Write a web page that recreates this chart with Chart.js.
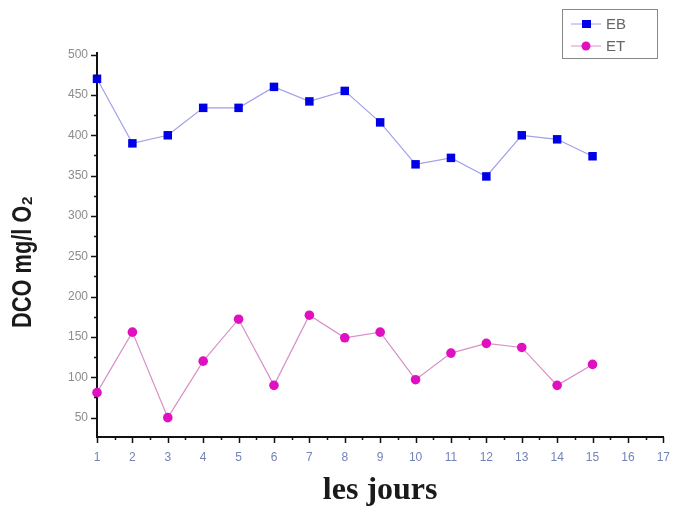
<!DOCTYPE html>
<html>
<head>
<meta charset="utf-8">
<script src="https://cdn.jsdelivr.net/npm/chart.js@4"></script>
<style>
  html, body { margin: 0; padding: 0; background: #fff; }
  #wrap { width: 683px; height: 508px; }
</style>
</head>
<body>
<div id="wrap"><canvas id="dco" width="683" height="508"></canvas></div>
<script>
// days and DCO readings (mg/l O2)
var days = [1, 2, 3, 4, 5, 6, 7, 8, 9, 10, 11, 12, 13, 14, 15];
var ebValues = [470, 390, 400, 434, 434, 460, 442, 455, 416, 364, 372, 349, 400, 395, 374];
var etValues = [81, 156, 50, 120, 172, 90, 177, 149, 156, 97, 130, 142, 137, 90, 116];
var yTicks = [50, 100, 150, 200, 250, 300, 350, 400, 450, 500];
var yTitle = "DCO mg/l O\u2082";

function toPoints(vals) {
  return days.map(function (d, i) { return { x: d, y: vals[i] }; });
}

// short outward ticks, major + minor, like the original plot
var axisTicks = {
  id: "axisTicks",
  afterDraw: function (chart) {
    var ctx = chart.ctx;
    var xs = chart.scales.x, ys = chart.scales.y;
    ctx.save();
    ctx.strokeStyle = "#111";
    ctx.lineWidth = 1.5;
    ctx.beginPath();
    for (var v = 1; v <= 17; v += 0.5) {
      var px = Math.round(xs.getPixelForValue(v)) + 0.5;
      var len = v % 1 === 0 ? 6 : 3;
      ctx.moveTo(px, ys.bottom);
      ctx.lineTo(px, ys.bottom + len);
    }
    for (var t = 50; t <= 500; t += 25) {
      var py = Math.round(ys.getPixelForValue(t)) + 0.5;
      var l = t % 50 === 0 ? 6 : 3;
      ctx.moveTo(xs.left, py);
      ctx.lineTo(xs.left - l, py);
    }
    ctx.stroke();
    ctx.restore();
  }
};

// rotated, slightly condensed y title (the original one is narrow and heavy)
var condensedTitle = {
  id: "condensedTitle",
  afterDraw: function (chart) {
    var ctx = chart.ctx;
    ctx.save();
    ctx.font = "bold 27px 'Liberation Sans', Arial, sans-serif";
    var w = ctx.measureText(yTitle).width;
    ctx.translate(24, 262);
    ctx.rotate(-Math.PI / 2);
    ctx.scale(132 / w, 1);
    ctx.fillStyle = "#1a1a1a";
    ctx.textAlign = "center";
    ctx.textBaseline = "middle";
    ctx.fillText(yTitle, 0, 0);
    ctx.restore();
  }
};

// boxed legend in the upper right corner
var boxLegend = {
  id: "boxLegend",
  afterDraw: function (chart) {
    var ctx = chart.ctx;
    ctx.save();
    ctx.strokeStyle = "#888";
    ctx.lineWidth = 1;
    ctx.strokeRect(562.5, 9.5, 95, 49);
    chart.data.datasets.forEach(function (ds, i) {
      var y = 24 + i * 22;
      ctx.strokeStyle = ds.borderColor;
      ctx.lineWidth = 1;
      ctx.beginPath();
      ctx.moveTo(571, y);
      ctx.lineTo(601, y);
      ctx.stroke();
      ctx.fillStyle = ds.pointBackgroundColor;
      if (ds.pointStyle === "rect") {
        ctx.fillRect(582, y - 4, 9, 8);
      } else {
        ctx.beginPath();
        ctx.arc(586, y, 4.5, 0, Math.PI * 2);
        ctx.fill();
      }
      ctx.fillStyle = "#666";
      ctx.font = "15px 'Liberation Sans', Arial, sans-serif";
      ctx.textBaseline = "middle";
      ctx.fillText(ds.label, 606, y + 1);
    });
    ctx.restore();
  }
};

new Chart("dco", {
  type: "line",
  data: {
    datasets: [
      {
        label: "EB",
        data: toPoints(ebValues),
        borderColor: "#a0a0ec",
        borderWidth: 1.2,
        pointStyle: "rect",
        pointRadius: 6,
        pointBackgroundColor: "#0000e6",
        pointBorderColor: "#0000e6",
        pointBorderWidth: 0,
        tension: 0,
        clip: false,
      },
      {
        label: "ET",
        data: toPoints(etValues),
        borderColor: "#d890c8",
        borderWidth: 1.2,
        pointStyle: "circle",
        pointRadius: 4.8,
        pointBackgroundColor: "#e010c0",
        pointBorderColor: "#e010c0",
        pointBorderWidth: 0,
        tension: 0,
        clip: false,
      },
    ],
  },
  options: {
    responsive: false,
    animation: false,
    layout: { padding: { left: 0, right: 18, top: 53, bottom: 0 } },
    plugins: {
      legend: { display: false },
      tooltip: { enabled: false },
    },
    scales: {
      x: {
        type: "linear",
        min: 1,
        max: 17,
        afterBuildTicks: function (scale) {
          var t = [];
          for (var d = 1; d <= 17; d++) t.push({ value: d });
          scale.ticks = t;
        },
        afterFit: function (scale) { scale.height = 71; },
        grid: { display: false, drawTicks: false },
        border: { display: true, color: "#111", width: 2 },
        ticks: {
          padding: 13,
          color: "#7383b8",
          font: { family: "'Liberation Sans', Arial, sans-serif", size: 12 },
          autoSkip: false,
          maxRotation: 0,
        },
        title: {
          display: true,
          text: "les jours",
          color: "#1a1a1a",
          font: { family: "'Liberation Serif', 'Times New Roman', serif", size: 32, weight: "bold", lineHeight: 1 },
          padding: { top: 0, bottom: 1 },
        },
      },
      y: {
        min: 26,
        max: 502,
        afterBuildTicks: function (scale) {
          scale.ticks = yTicks.map(function (v) { return { value: v }; });
        },
        afterFit: function (scale) { scale.width = 97; },
        grid: { display: false, drawTicks: false },
        border: { display: true, color: "#111", width: 2 },
        ticks: {
          padding: 9,
          color: "#8c8c8c",
          font: { family: "'Liberation Sans', Arial, sans-serif", size: 12 },
        },
      },
    },
  },
  plugins: [axisTicks, condensedTitle, boxLegend],
});
</script>
</body>
</html>
